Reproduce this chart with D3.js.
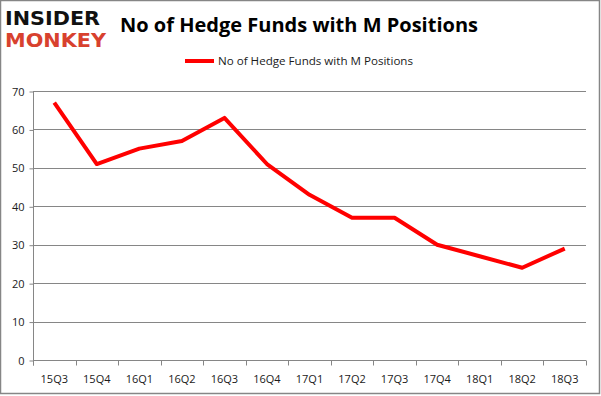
<!DOCTYPE html>
<html>
<head>
<meta charset="utf-8">
<script src="https://cdn.jsdelivr.net/npm/d3@7"></script>
<style>
  body { margin: 0; background: #fff; }
  svg { display: block; }
</style>
</head>
<body>
<script>
// Hedge fund count per quarter.
const quarters = ["15Q3", "15Q4", "16Q1", "16Q2", "16Q3", "16Q4", "17Q1", "17Q2", "17Q3", "17Q4", "18Q1", "18Q2", "18Q3"];
const fundCounts = [67, 51, 55, 57, 63, 51, 43, 37, 37, 30, 27, 24, 29];
const yTicks = [0, 10, 20, 30, 40, 50, 60, 70];

const seriesName = "No of Hedge Funds with M Positions";
const gray = "#868686";

const width = 601, height = 396;
const margin = { left: 33, right: 15, top: 91, bottom: 36 };

const svg = d3.select("body").append("svg")
  .attr("width", width)
  .attr("height", height);

// Outer border.
svg.append("rect")
  .attr("x", 0.5).attr("y", 0.5)
  .attr("width", width - 2).attr("height", height - 3)
  .attr("fill", "none").attr("stroke", gray).attr("stroke-width", 1.5);

// Logo.
const logo = svg.append("g").attr("font-family", "DejaVu Sans").attr("font-weight", "bold");
logo.append("text").attr("x", 5).attr("y", 25).attr("font-size", 20)
  .attr("textLength", 95).attr("lengthAdjust", "spacingAndGlyphs")
  .attr("fill", "#111").text("INSIDER");
logo.append("text").attr("x", 5).attr("y", 47).attr("font-size", 20)
  .attr("textLength", 101).attr("lengthAdjust", "spacingAndGlyphs")
  .attr("fill", "#d8412e").text("MONKEY");

// Title.
svg.append("text")
  .attr("x", 299).attr("y", 32)
  .attr("text-anchor", "middle")
  .attr("font-family", "Open Sans, sans-serif")
  .attr("font-weight", "bold")
  .attr("font-size", 20)
  .attr("textLength", 358).attr("lengthAdjust", "spacingAndGlyphs")
  .attr("fill", "#000")
  .text(seriesName);

// Legend.
const legend = svg.append("g").attr("transform", "translate(185,61)");
legend.append("line").attr("x1", 0).attr("x2", 29)
  .attr("stroke", "#ff0000").attr("stroke-width", 4);
legend.append("text").attr("x", 33).attr("y", 4)
  .attr("font-family", "Open Sans, sans-serif").attr("font-size", 11)
  .attr("textLength", 195).attr("lengthAdjust", "spacingAndGlyphs")
  .attr("fill", "#1a1a1a").text(seriesName);

const x = d3.scaleBand()
  .domain(quarters)
  .range([margin.left, width - margin.right]);

const y = d3.scaleLinear()
  .domain([0, 70])
  .range([height - margin.bottom, margin.top]);

// Gridlines.
svg.append("g")
  .selectAll("line")
  .data(yTicks.filter(d => d > 0))
  .join("line")
  .attr("x1", margin.left).attr("x2", width - margin.right)
  .attr("y1", d => Math.round(y(d)) + 0.5).attr("y2", d => Math.round(y(d)) + 0.5)
  .attr("stroke", gray).attr("stroke-width", 1);

// Y axis.
const yAxis = svg.append("g")
  .attr("transform", `translate(${margin.left + 0.5},0.5)`)
  .call(d3.axisLeft(y).tickValues(yTicks).tickSize(4).tickPadding(5).tickSizeOuter(0));
yAxis.select(".domain").attr("stroke", gray)
  .attr("d", `M0,${y(70)}V${y(0) + 5}`);

// X axis, ticks at band edges.
const xAxisG = svg.append("g")
  .attr("transform", `translate(0,${Math.round(y(0)) + 0.5})`);
xAxisG.append("line")
  .attr("x1", margin.left).attr("x2", width - margin.right)
  .attr("stroke", gray);
xAxisG.selectAll("line.tick")
  .data(quarters.map(q => x(q)).concat([x.range()[1]]))
  .join("line").attr("class", "tick")
  .attr("x1", d => Math.round(d) + 0.5).attr("x2", d => Math.round(d) + 0.5)
  .attr("y1", 0).attr("y2", 5)
  .attr("stroke", gray);
xAxisG.selectAll("text")
  .data(quarters)
  .join("text")
  .attr("x", d => x(d) + x.bandwidth() / 2)
  .attr("y", 22)
  .attr("text-anchor", "middle")
  .attr("font-family", "Open Sans, sans-serif").attr("font-size", 11)
  .attr("fill", "#1a1a1a")
  .text(d => d);

yAxis.selectAll(".tick line").attr("stroke", gray);
yAxis.selectAll(".tick text")
  .attr("font-family", "Open Sans, sans-serif").attr("font-size", 11)
  .attr("fill", "#1a1a1a");

// Series line.
const line = d3.line()
  .x((d, i) => x(quarters[i]) + x.bandwidth() / 2)
  .y(d => y(d));

svg.append("path")
  .datum(fundCounts)
  .attr("d", line)
  .attr("fill", "none")
  .attr("stroke", "#ff0000")
  .attr("stroke-width", 4)
  .attr("stroke-linejoin", "round");
</script>
</body>
</html>
